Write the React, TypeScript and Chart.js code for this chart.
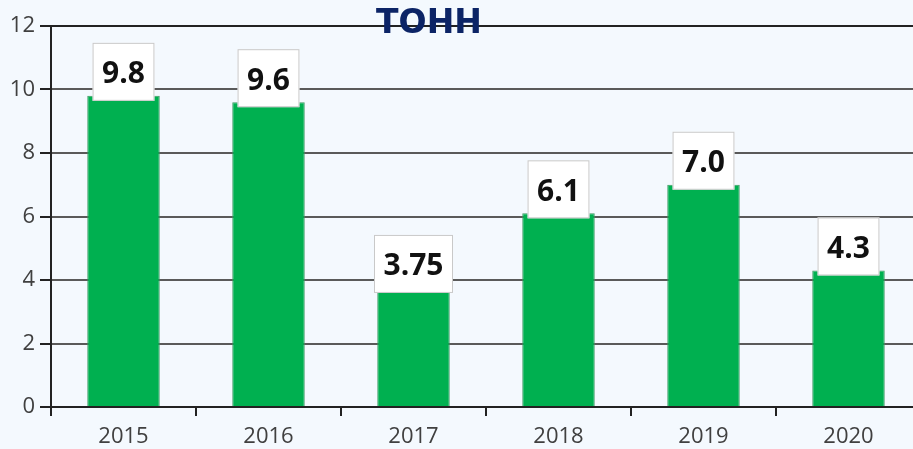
import React, { useEffect, useRef } from "react";
import { Chart, registerables } from "chart.js";

Chart.register(...registerables);

const categories = ["2015", "2016", "2017", "2018", "2019", "2020"];
const values = [9.8, 9.6, 3.75, 6.1, 7.0, 4.3];
const valueLabels = ["9.8", "9.6", "3.75", "6.1", "7.0", "4.3"];
const yTicks = [0, 2, 4, 6, 8, 10, 12];
const titleText = "ТОНН";

const overlayPlugin = {
  id: "overlay",
  afterDatasetsDraw(chart: any) {
    const ctx = chart.ctx;
    const meta = chart.getDatasetMeta(0);
    ctx.save();
    ctx.font = "bold 30px 'Open Sans'";
    meta.data.forEach((bar: any, i: number) => {
      const text = valueLabels[i];
      const tw = ctx.measureText(text).width;
      const w = tw + 19;
      const top = bar.y - 53;
      const h = 58;
      const x = bar.x - w / 2;
      ctx.fillStyle = "#ffffff";
      ctx.fillRect(x, top, w, h);
      ctx.strokeStyle = "#c9c9c9";
      ctx.lineWidth = 1;
      ctx.strokeRect(x + 0.5, top + 0.5, w - 1, h - 1);
      ctx.fillStyle = "#111111";
      ctx.textAlign = "center";
      ctx.textBaseline = "middle";
      ctx.fillText(text, bar.x, bar.y - 21);
    });
    ctx.restore();
  },
  afterDraw(chart: any) {
    const ctx = chart.ctx;
    ctx.save();
    ctx.font = "bold 33px 'DejaVu Sans'";
    ctx.fillStyle = "#0c2466";
    ctx.textAlign = "center";
    ctx.textBaseline = "middle";
    ctx.fillText(titleText, 429, 24);
    ctx.restore();
  },
};

export default function App() {
  const ref = useRef<HTMLCanvasElement | null>(null);
  useEffect(() => {
    if (!ref.current) return;
    const chart = new Chart(ref.current, {
      type: "bar",
      data: {
        labels: categories,
        datasets: [
          {
            data: values,
            backgroundColor: "#00b050",
            borderColor: "#3f9a62",
            borderWidth: 1,
            barPercentage: 0.5,
            categoryPercentage: 1,
          },
        ],
      },
      options: {
        animation: false,
        responsive: true,
        maintainAspectRatio: false,
        layout: { padding: { top: 26, right: 0, left: 0, bottom: 0 } },
        plugins: {
          legend: { display: false },
          tooltip: { enabled: false },
          title: { display: false },
        },
        scales: {
          x: {
            grid: {
              display: true,
              drawOnChartArea: false,
              drawTicks: true,
              tickLength: 9,
              tickColor: "#222222",
              lineWidth: 2,
              offset: true,
            },
            border: { display: true, color: "#222222", width: 2 },
            ticks: {
              color: "#404040",
              font: { family: "'Open Sans'", size: 22 },
              padding: 8,
              maxRotation: 0,
            },
            afterFit(scale: any) {
              scale.height = 42;
            },
          },
          y: {
            min: 0,
            max: 12,
            afterBuildTicks(scale: any) {
              scale.ticks = yTicks.map((v) => ({ value: v }));
            },
            grid: {
              color: (c: any) => (c.tick && c.tick.value === 12 ? "#222222" : "#5a5a5a"),
              lineWidth: 2,
              tickLength: 11,
              tickColor: "#222222",
            },
            border: { display: true, color: "#222222", width: 2 },
            ticks: {
              color: "#404040",
              font: { family: "'Open Sans'", size: 22 },
              padding: 5,
            },
            afterFit(scale: any) {
              scale.width = 51;
            },
          },
        },
      },
      plugins: [overlayPlugin],
    });
    return () => chart.destroy();
  }, []);

  return (
    <div
      style={{
        position: "fixed",
        left: 0,
        top: 0,
        width: 913,
        height: 449,
        overflow: "hidden",
        background: "#f4f9fe",
      }}
    >
      <div style={{ position: "relative", width: 921, height: 449 }}>
        <canvas ref={ref} />
      </div>
    </div>
  );
}
